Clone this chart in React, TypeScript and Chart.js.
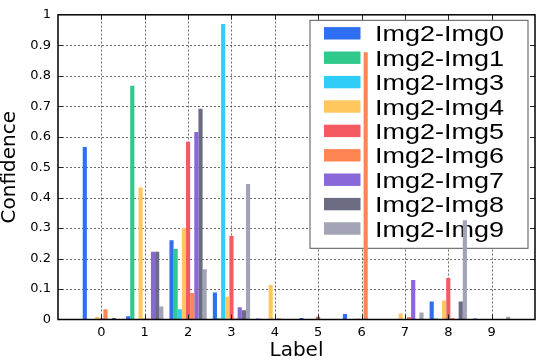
import React, { useEffect, useRef } from "react";
import { Chart, registerables } from "chart.js";

Chart.register(...registerables);

const categories = ["0", "1", "2", "3", "4", "5", "6", "7", "8", "9"];
const seriesNames = [
  "Img2-Img0",
  "Img2-Img1",
  "Img2-Img3",
  "Img2-Img4",
  "Img2-Img5",
  "Img2-Img6",
  "Img2-Img7",
  "Img2-Img8",
  "Img2-Img9",
];
const seriesColors = [
  "#2f6ff2",
  "#30c98c",
  "#2fcdf8",
  "#ffc75e",
  "#f55a62",
  "#ff8652",
  "#8a68d9",
  "#6b6b82",
  "#a2a4b5",
];
const img0 = [0.566, 0.011, 0.26, 0.089, 0.003, 0.005, 0.018, 0.002, 0.059, 0.003];
const img1 = [0, 0.767, 0.231, 0.004, 0, 0, 0, 0.002, 0.003, 0];
const img3 = [0, 0, 0.034, 0.97, 0, 0, 0, 0, 0, 0];
const img4 = [0.008, 0.433, 0.3, 0.075, 0.113, 0, 0.003, 0.02, 0.062, 0.002];
const img5 = [0.004, 0.003, 0.583, 0.274, 0, 0.009, 0.002, 0, 0.136, 0];
const img6 = [0.034, 0.003, 0.087, 0.003, 0.004, 0, 0.877, 0.008, 0.005, 0];
const img7 = [0, 0.222, 0.615, 0.04, 0, 0, 0, 0.13, 0, 0];
const img8 = [0.005, 0.222, 0.692, 0.03, 0, 0, 0, 0, 0.059, 0];
const img9 = [0, 0.043, 0.165, 0.445, 0, 0, 0, 0.023, 0.326, 0.009];
const seriesValues = [img0, img1, img3, img4, img5, img6, img7, img8, img9];
const yTicks = [0, 0.1, 0.2, 0.3, 0.4, 0.5, 0.6, 0.7, 0.8, 0.9, 1];

const FONT = "'DejaVu Sans', sans-serif";
const LEGEND_FONT = "'Liberation Sans', Arial, sans-serif";

const framePlugin = {
  id: "gnuFrame",
  beforeDatasetsDraw(chart: any) {
    const { ctx, chartArea } = chart;
    const { left, right, top, bottom } = chartArea;
    const xs = chart.scales.x;
    const ys = chart.scales.y;
    ctx.save();
    // dotted grid
    ctx.strokeStyle = "rgba(70,70,70,0.8)";
    ctx.lineWidth = 1;
    ctx.setLineDash([2, 2]);
    for (let i = 1; i < xs.ticks.length - 1; i++) {
      const px = Math.round(xs.getPixelForTick(i)) + 0.5;
      ctx.beginPath();
      ctx.moveTo(px, bottom);
      ctx.lineTo(px, top);
      ctx.stroke();
    }
    for (let i = 1; i < ys.ticks.length - 1; i++) {
      const py = Math.round(ys.getPixelForTick(i)) + 0.5;
      ctx.beginPath();
      ctx.moveTo(left, py);
      ctx.lineTo(right, py);
      ctx.stroke();
    }
    ctx.setLineDash([]);

    // legend box
    const lRight = right - 6.5;
    const lTop = top + 5;
    const w = 219;
    const h = 229;
    const lLeft = lRight - w;
    ctx.fillStyle = "#ffffff";
    ctx.fillRect(lLeft, lTop, w, h);
    ctx.strokeStyle = "#555555";
    ctx.lineWidth = 1;
    ctx.strokeRect(lLeft + 0.5, lTop + 0.5, w - 1, h - 1);
    ctx.textBaseline = "alphabetic";
    ctx.textAlign = "left";
    seriesNames.forEach((name, i) => {
      const cy = lTop + 13.5 + i * 24.4;
      ctx.fillStyle = seriesColors[i];
      ctx.fillRect(lLeft + 14.5, cy - 6.2, 36.5, 12.4);
      ctx.fillStyle = "#000000";
      ctx.save();
      ctx.translate(lLeft + 65.5, cy + 8);
      ctx.scale(1.2, 1);
      ctx.font = `22.5px ${LEGEND_FONT}`;
      ctx.fillText(name, 0, 0);
      ctx.restore();
    });
    ctx.restore();
  },
  afterDatasetsDraw(chart: any) {
    const { ctx, chartArea } = chart;
    const { left, right, top, bottom } = chartArea;
    ctx.save();
    ctx.strokeStyle = "#222222";
    ctx.lineWidth = 1;
    const xs = chart.scales.x;
    for (let i = 1; i < xs.ticks.length - 1; i++) {
      const px = Math.round(xs.getPixelForTick(i)) + 0.5;
      ctx.beginPath();
      ctx.moveTo(px, bottom);
      ctx.lineTo(px, bottom - 5);
      ctx.moveTo(px, top);
      ctx.lineTo(px, top + 5);
      ctx.stroke();
    }
    const ys = chart.scales.y;
    for (let i = 1; i < ys.ticks.length - 1; i++) {
      const py = Math.round(ys.getPixelForTick(i)) + 0.5;
      ctx.beginPath();
      ctx.moveTo(left, py);
      ctx.lineTo(left + 5, py);
      ctx.moveTo(right, py);
      ctx.lineTo(right - 5, py);
      ctx.stroke();
    }
    ctx.strokeStyle = "#000000";
    ctx.lineWidth = 1.5;
    ctx.strokeRect(left, top, right - left, bottom - top);
    ctx.restore();
  },
};

export default function App() {
  const canvasRef = useRef<HTMLCanvasElement | null>(null);

  useEffect(() => {
    if (!canvasRef.current) return;
    const labels = ["-1", ...categories, "10"];
    const chart = new Chart(canvasRef.current, {
      type: "bar",
      data: {
        labels,
        datasets: seriesNames.map((name, i) => ({
          label: name,
          data: [null, ...seriesValues[i], null],
          backgroundColor: seriesColors[i],
          borderWidth: 0,
          categoryPercentage: 0.86,
          barPercentage: 1.0,
        })),
      },
      options: {
        responsive: false,
        animation: false,
        devicePixelRatio: 1,
        layout: { padding: { top: 6, right: 1, left: 0, bottom: 0 } },
        plugins: {
          legend: { display: false },
          tooltip: { enabled: false },
        },
        scales: {
          x: {
            type: "category",
            offset: false,
            grid: { display: false, drawTicks: false },
            border: { display: false },
            ticks: {
              autoSkip: false,
              maxRotation: 0,
              padding: 5,
              color: "#000000",
              font: { family: FONT, size: 13 },
              callback: (_v: any, idx: number) =>
                idx === 0 || idx === labels.length - 1 ? "" : labels[idx],
            },
            title: {
              display: true,
              text: "Label",
              color: "#000000",
              font: { family: FONT, size: 20, lineHeight: 1 },
              padding: { top: 0, bottom: 1 },
            },
            afterFit: (s: any) => {
              s.height = 42.5;
            },
          },
          y: {
            type: "linear",
            min: 0,
            max: 1,
            afterBuildTicks: (s: any) => {
              s.ticks = yTicks.map((v) => ({ value: v }));
            },
            grid: { display: false, drawTicks: false },
            border: { display: false },
            ticks: {
              padding: 7,
              color: "#000000",
              font: { family: FONT, size: 13 },
              callback: (v: any) => (v === 0 ? "0" : v === 1 ? "1" : Number(v).toFixed(1)),
            },
            title: {
              display: true,
              text: "Confidence",
              color: "#000000",
              font: { family: FONT, size: 20, lineHeight: 1 },
              padding: { top: 0, bottom: 0 },
            },
            afterFit: (s: any) => {
              s.width = 58;
            },
          },
        },
      } as any,
      plugins: [framePlugin],
    });
    return () => chart.destroy();
  }, []);

  return (
    <div style={{ position: "fixed", left: 0, top: 0, width: 540, height: 362, background: "#ffffff" }}>
      <canvas ref={canvasRef} width={540} height={362} style={{ width: 540, height: 362 }} />
    </div>
  );
}
